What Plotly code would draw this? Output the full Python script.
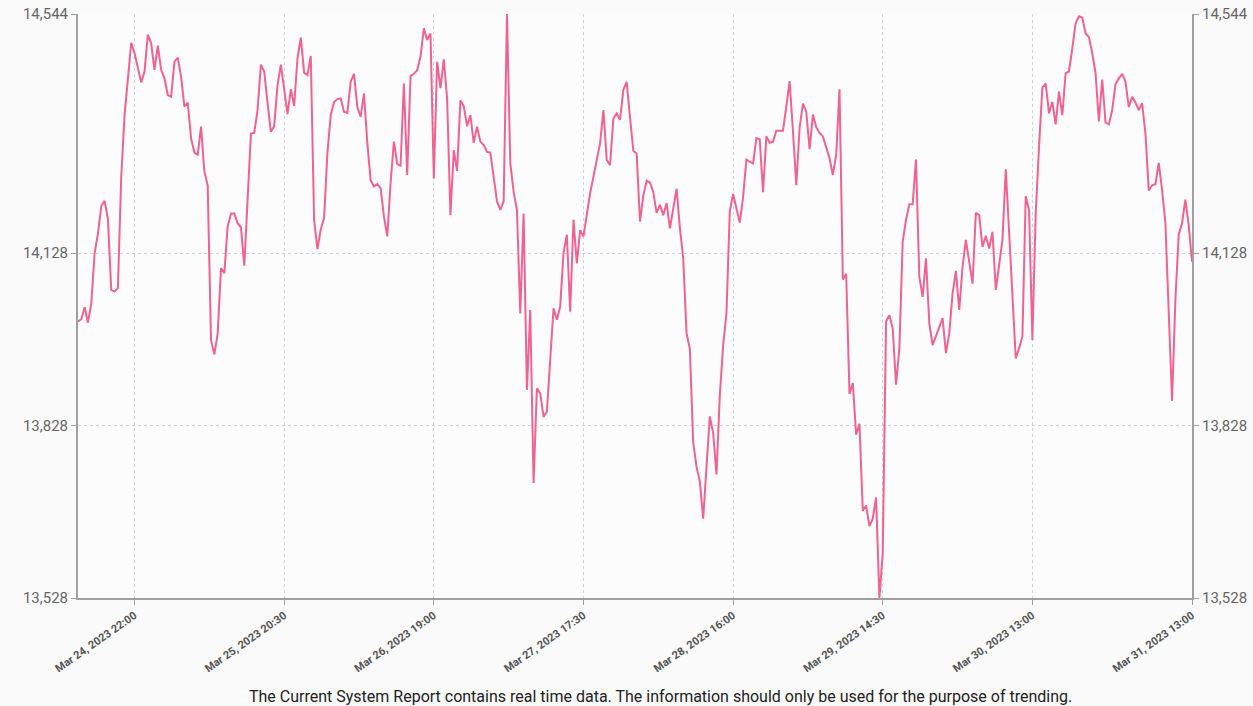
import pandas as pd
import plotly.graph_objects as go

# ---- data (30-minute samples starting Mar 24, 2023 13:30) ----
start_time = "2023-03-24 13:30"
step = "30min"
values = [
    14009, 14013, 14034, 14007, 14041, 14128, 14162, 14210, 14219, 14187,
    14064, 14061, 14067, 14261, 14368, 14438, 14494, 14476, 14448, 14425,
    14444, 14508, 14493, 14447, 14489, 14447, 14432, 14403, 14400, 14461,
    14468, 14435, 14383, 14390, 14328, 14303, 14299, 14348, 14270, 14246,
    13977, 13952, 13988, 14102, 14093, 14174, 14197, 14197, 14180, 14173,
    14106, 14220, 14336, 14337, 14377, 14456, 14444, 14389, 14339, 14349,
    14420, 14456, 14412, 14370, 14413, 14384, 14467, 14503, 14442, 14438,
    14471, 14186, 14135, 14169, 14189, 14302, 14368, 14391, 14396, 14397,
    14374, 14372, 14426, 14440, 14382, 14365, 14406, 14320, 14255, 14244,
    14248, 14241, 14192, 14157, 14250, 14322, 14283, 14280, 14423, 14264,
    14436, 14440, 14446, 14470, 14519, 14499, 14510, 14258, 14461, 14415,
    14465, 14397, 14194, 14307, 14271, 14394, 14384, 14349, 14368, 14320,
    14348, 14322, 14316, 14304, 14303, 14261, 14218, 14203, 14218, 14544,
    14284, 14235, 14203, 14023, 14197, 13890, 14029, 13728, 13893, 13884,
    13843, 13852, 13936, 14032, 14012, 14035, 14128, 14160, 14026, 14186,
    14110, 14168, 14157, 14197, 14232, 14261, 14290, 14319, 14377, 14290,
    14281, 14362, 14371, 14360, 14412, 14426, 14364, 14306, 14301, 14183,
    14228, 14254, 14251, 14234, 14198, 14212, 14194, 14215, 14171, 14203,
    14240, 14172, 14119, 13989, 13961, 13799, 13756, 13731, 13666, 13756,
    13844, 13815, 13743, 13880, 13967, 14023, 14200, 14231, 14203, 14181,
    14225, 14291, 14287, 14284, 14328, 14326, 14234, 14331, 14320, 14322,
    14341, 14341, 14341, 14383, 14427, 14340, 14246, 14346, 14388, 14374,
    14309, 14369, 14347, 14337, 14331, 14312, 14293, 14264, 14299, 14413,
    14082, 14092, 13883, 13902, 13812, 13831, 13680, 13689, 13653, 13666,
    13703, 13528, 13606, 14009, 14020, 13997, 13899, 13962, 14148, 14186,
    14213, 14213, 14291, 14087, 14052, 14119, 14006, 13968, 13983, 14000,
    14015, 13954, 13988, 14058, 14097, 14029, 14104, 14151, 14113, 14075,
    14198, 14194, 14139, 14158, 14136, 14165, 14064, 14104, 14151, 14274,
    14168, 14058, 13945, 13962, 13983, 14227, 14203, 13977, 14197, 14313,
    14416, 14423, 14371, 14391, 14352, 14409, 14368, 14441, 14444, 14484,
    14528, 14540, 14538, 14510, 14504, 14476, 14441, 14357, 14430, 14355,
    14352, 14377, 14422, 14432, 14440, 14426, 14382, 14400, 14390, 14377,
    14389, 14336, 14237, 14246, 14248, 14285, 14238, 14180, 14026, 13871,
    14046, 14160, 14180, 14221, 14177, 14113,
]

x_range = ["2023-03-24 13:30", "2023-03-31 13:00"]
x_tick_vals = ["2023-03-24 22:00", "2023-03-25 20:30", "2023-03-26 19:00",
               "2023-03-27 17:30", "2023-03-28 16:00", "2023-03-29 14:30",
               "2023-03-30 13:00", "2023-03-31 13:00"]
x_tick_text = ["Mar 24, 2023 22:00", "Mar 25, 2023 20:30", "Mar 26, 2023 19:00",
               "Mar 27, 2023 17:30", "Mar 28, 2023 16:00", "Mar 29, 2023 14:30",
               "Mar 30, 2023 13:00", "Mar 31, 2023 13:00"]
y_tick_vals = [13528, 13828, 14128, 14544]
y_tick_text = ["13,528", "13,828", "14,128", "14,544"]
footer = ("The Current System Report contains real time data. "
          "The information should only be used for the purpose of trending.")

times = pd.date_range(start=start_time, periods=len(values), freq=step)

LINE = "#f06292"
AXIS = "#a0a0a0"
GRID = "#d2d2d2"
TICKFONT = dict(family="Roboto", size=15, color="#666666")

fig = go.Figure()
fig.add_trace(go.Scatter(x=times, y=values, mode="lines",
                         line=dict(color=LINE, width=2), showlegend=False))
fig.add_trace(go.Scatter(x=times, y=values, mode="lines", yaxis="y2",
                         line=dict(color="rgba(0,0,0,0)", width=0),
                         hoverinfo="skip", showlegend=False))

fig.update_layout(
    width=1253, height=706,
    margin=dict(l=78, r=61, t=14, b=108, autoexpand=False),
    paper_bgcolor="#fafafa", plot_bgcolor="#fcfcfc",
    xaxis=dict(
        type="date", range=x_range, automargin=False,
        tickmode="array", tickvals=x_tick_vals, ticktext=x_tick_text,
        tickangle=-35,
        tickfont=dict(family="Roboto", size=11, color="#555555", weight="bold"),
        showgrid=True, gridcolor=GRID, griddash="dot", gridwidth=1,
        showline=True, linecolor=AXIS, linewidth=2,
        ticks="outside", ticklen=5, tickcolor=AXIS,
        zeroline=False, ticklabeloverflow="allow",
    ),
    yaxis=dict(
        range=[13528, 14544], automargin=False,
        tickmode="array", tickvals=y_tick_vals, ticktext=y_tick_text,
        tickfont=TICKFONT,
        showgrid=True, gridcolor=GRID, griddash="dot", gridwidth=1,
        showline=True, linecolor=AXIS, linewidth=2,
        ticks="outside", ticklen=5, tickcolor=AXIS,
        zeroline=False, ticklabeloverflow="allow",
    ),
    yaxis2=dict(
        range=[13528, 14544], overlaying="y", side="right", automargin=False,
        tickmode="array", tickvals=y_tick_vals, ticktext=y_tick_text,
        tickfont=TICKFONT, showgrid=False,
        showline=True, linecolor=AXIS, linewidth=2,
        ticks="outside", ticklen=5, tickcolor=AXIS,
        zeroline=False, ticklabeloverflow="allow",
    ),
    annotations=[dict(
        text=footer, xref="paper", yref="paper", x=0.523, y=0,
        yshift=-98, yanchor="middle", xanchor="center", showarrow=False,
        font=dict(family="Roboto", size=16, color="#222222"),
    )],
)

fig.write_html("out.html",
               config={"displayModeBar": False},
               post_script="document.body.style.margin='0';")
